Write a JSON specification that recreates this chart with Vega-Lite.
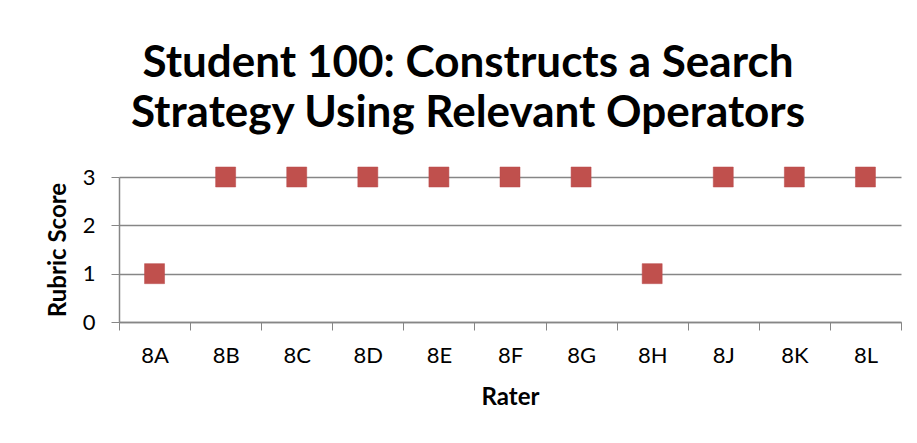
{
  "$schema": "https://vega.github.io/schema/vega-lite/v6.json",
  "width": 782,
  "height": 145,
  "autosize": {"type": "none"},
  "padding": {"left": 119, "top": 177, "right": 16, "bottom": 121},
  "background": "white",
  "title": {
    "text": ["Student 100: Constructs a Search", "Strategy Using Relevant Operators"],
    "font": "Lato",
    "fontSize": 44,
    "fontWeight": "bold",
    "color": "#000000",
    "anchor": "middle",
    "dx": -42,
    "offset": 30,
    "lineHeight": 50
  },
  "data": {
    "values": [
      {"rater": "8A", "score": 1},
      {"rater": "8B", "score": 3},
      {"rater": "8C", "score": 3},
      {"rater": "8D", "score": 3},
      {"rater": "8E", "score": 3},
      {"rater": "8F", "score": 3},
      {"rater": "8G", "score": 3},
      {"rater": "8H", "score": 1},
      {"rater": "8J", "score": 3},
      {"rater": "8K", "score": 3},
      {"rater": "8L", "score": 3}
    ]
  },
  "mark": {"type": "square", "size": 400, "color": "#C0504D", "opacity": 1, "stroke": "#B9494A", "strokeWidth": 0.5},
  "encoding": {
    "x": {
      "field": "rater",
      "type": "nominal",
      "sort": null,
      "scale": {"paddingInner": 0, "paddingOuter": 0},
      "axis": {
        "title": "Rater",
        "titleFont": "Lato",
        "titleFontSize": 24,
        "titleFontWeight": "bold",
        "titleColor": "#000000",
        "titlePadding": 19,
        "labelFont": "Lato",
        "labelFontSize": 22,
        "labelColor": "#000000",
        "labelAngle": 0,
        "labelPadding": 15,
        "tickBand": "extent",
        "tickSize": 8,
        "tickColor": "#868686",
        "domainColor": "#868686",
        "domainWidth": 1.5,
        "grid": false
      }
    },
    "y": {
      "field": "score",
      "type": "quantitative",
      "scale": {"domain": [0, 3], "nice": false},
      "axis": {
        "title": "Rubric Score",
        "titleFont": "Lato",
        "titleFontSize": 24,
        "titleFontWeight": "bold",
        "titleColor": "#000000",
        "titlePadding": 12,
        "labelFont": "Lato",
        "labelFontSize": 22,
        "labelColor": "#000000",
        "labelPadding": 16,
        "values": [0, 1, 2, 3],
        "tickSize": 8,
        "tickColor": "#868686",
        "domainColor": "#868686",
        "domainWidth": 1.5,
        "grid": true,
        "gridColor": "#868686",
        "gridWidth": 1.5
      }
    }
  },
  "config": {"view": {"stroke": null}}
}
